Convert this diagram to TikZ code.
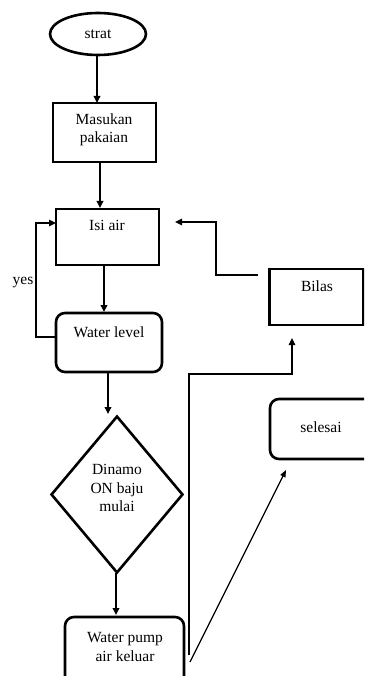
\documentclass[tikz,border=0pt]{standalone}
\usepackage{fontspec}
\setmainfont{Liberation Serif}
\usetikzlibrary{shapes.geometric,arrows.meta}
\begin{document}
\begin{tikzpicture}[x=1pt,y=-1pt,
  box/.style={draw,line width=2.6pt,inner sep=0pt,minimum width=#1},
  rbox/.style={draw,line width=2.6pt,inner sep=0pt,rounded corners=9pt},
  txt/.style={align=center,inner sep=0pt,font=\fontsize{15.5}{18.5}\selectfont},
  arr/.style={line width=1.8pt,-{Triangle[length=7pt,width=6.5pt]}},
  thin/.style={line width=1.2pt,-{Triangle[length=7pt,width=5.5pt]}}]
\useasboundingbox (0,0) rectangle (364,676);
\clip (0,0) rectangle (364,676);
% shapes
\node[draw,ellipse,line width=2.6pt,inner sep=0pt,minimum width=96pt,minimum height=42pt] (start) at (98,34) {};
\node[box=103pt,minimum height=59pt] (masuk) at (104.5,132.5) {};
\node[box=103pt,minimum height=56pt] (isi) at (107.5,237) {};
\node[rbox,minimum width=106pt,minimum height=59pt] (level) at (109,342.5) {};
\node[draw,diamond,line width=2.6pt,inner sep=0pt,minimum width=132pt,minimum height=157pt] (dinamo) at (117,494.5) {};
\node[rbox,minimum width=119pt,minimum height=90pt] (pump) at (124.5,662) {};
\node[box=94pt,minimum height=56pt] (bilas) at (316.5,297) {};
\node[rbox,minimum width=110pt,minimum height=60pt] (selesai) at (325,429) {};
% texts
\node[txt] (tstart) at (98,34) {strat};
\node[txt] (tmasuk) at (104,130) {Masukan\\pakaian};
\node[txt] (tisi) at (107,225) {Isi air};
\node[txt] (tlevel) at (109,332) {Water level};
\node[txt] (tdinamo) at (117,488) {Dinamo\\ON baju\\mulai};
\node[txt] (tpump) at (125,647) {Water pump\\air keluar};
\node[txt] (tbilas) at (317,286) {Bilas};
\node[txt] (tselesai) at (321,427) {selesai};
\node[txt] (tyes) at (23,283) {yes};
% coordinates
\coordinate (c1) at (97,103);
\coordinate (c2) at (100,162);
\coordinate (c3) at (100,208);
\coordinate (c4) at (104,265);
\coordinate (c5) at (104,312);
\coordinate (ly) at (56,337);
\coordinate (iy) at (56,223);
\coordinate (bs) at (258,275);
\coordinate (be) at (175,222);
\coordinate (c6) at (108,372);
\coordinate (c7) at (108,414);
\coordinate (c8) at (116,573);
\coordinate (c9) at (116,615);
\coordinate (ps) at (189,655);
\coordinate (pe) at (292,338);
\coordinate (ds) at (190,662);
\coordinate (de) at (286,470);
% connectors
\draw[arr] (start.south -| c1) -- (c1);
\draw[arr] (c2) -- (c3);
\draw[arr] (c4) -- (c5);
\draw[arr,line width=1.5pt] (ly) -- (36,337) -- (36,223) -- (iy);
\draw[arr,line width=1.5pt] (bs) -- (216,275) -- (216,222) -- (be);
\draw[arr] (c6) -- (c7);
\draw[arr] (c8) -- (c9);
\draw[arr,line width=1.5pt] (ps) -- (189,374) -- (292,374) -- (pe);
\draw[thin] (ds) -- (de);
\end{tikzpicture}
\end{document}
